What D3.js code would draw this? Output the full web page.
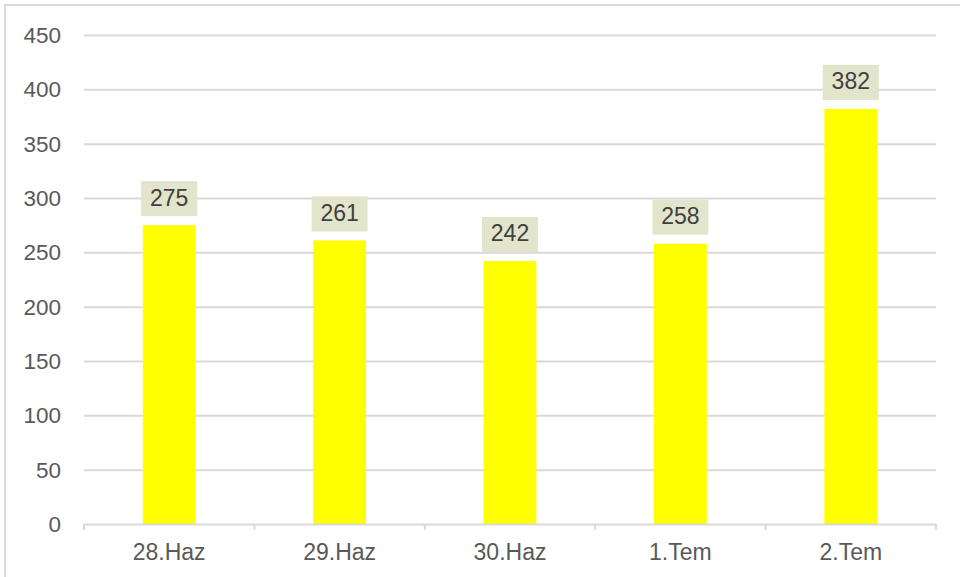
<!DOCTYPE html>
<html><head><meta charset="utf-8">
<script src="https://cdn.jsdelivr.net/npm/d3@7"></script>
<style>body{margin:0;background:#fff}svg{display:block}</style>
</head><body>
<script>
const categories = ["28.Haz","29.Haz","30.Haz","1.Tem","2.Tem"];
const values = [275,261,242,258,382];
const yTicks = [0,50,100,150,200,250,300,350,400,450];

const W=960,H=577;
const svg=d3.select("body").append("svg").attr("width",W).attr("height",H);
svg.append("rect").attr("x",5).attr("y",5).attr("width",W).attr("height",H)
  .attr("fill","#fff").attr("stroke","#d9d9d9").attr("stroke-width",2);

const pL=84,pR=936,pT=35,pB=524;
const x=d3.scaleBand().domain(categories).range([pL,pR]).paddingInner(0.69).paddingOuter(0.345);
const xb=d3.scaleBand().domain(categories).range([pL,pR]);
const y=d3.scaleLinear().domain([0,450]).range([pB,pT]);
const font="'Liberation Sans', Arial, sans-serif";

// gridlines
svg.append("g").selectAll("line").data(yTicks.filter(d=>d>0)).join("line")
  .attr("x1",pL).attr("x2",pR).attr("y1",d=>y(d)+0.5).attr("y2",d=>y(d)+0.5)
  .attr("stroke","#d9d9d9").attr("stroke-width",2);

// y labels
svg.append("g").selectAll("text").data(yTicks).join("text")
  .attr("x",61).attr("y",d=>y(d)).attr("dy","0.35em").attr("text-anchor","end")
  .attr("font-family",font).attr("font-size",22.5).attr("fill","#595959").text(d=>d);

// bars
svg.append("g").selectAll("rect").data(values).join("rect")
  .attr("x",(d,i)=>x(categories[i])).attr("width",x.bandwidth())
  .attr("y",d=>y(d)).attr("height",d=>pB-y(d)).attr("fill","#ffff00");

// x axis
const ax=svg.append("g");
ax.append("line").attr("x1",pL).attr("x2",pR).attr("y1",pB+0.5).attr("y2",pB+0.5)
  .attr("stroke","#d9d9d9").attr("stroke-width",2);
const tickX=categories.map(c=>xb(c)).concat([pR]);
ax.selectAll("line.t").data(tickX).join("line").attr("class","t")
  .attr("x1",d=>d).attr("x2",d=>d).attr("y1",pB).attr("y2",pB+6)
  .attr("stroke","#d9d9d9").attr("stroke-width",2);
ax.selectAll("text").data(categories).join("text")
  .attr("x",d=>xb(d)+xb.bandwidth()/2).attr("y",pB+36).attr("text-anchor","middle")
  .attr("font-family",font).attr("font-size",23).attr("fill","#595959").text(d=>d);

// data labels
const lg=svg.append("g").selectAll("g").data(values).join("g")
  .attr("transform",(d,i)=>`translate(${xb(categories[i])+xb.bandwidth()/2},${y(d)-26.5})`);
lg.append("rect").attr("x",-28).attr("y",-17.5).attr("width",56).attr("height",35).attr("fill","#e2e4cb");
lg.append("text").attr("text-anchor","middle").attr("dy","0.3em")
  .attr("font-family",font).attr("font-size",23).attr("fill","#404040").text(d=>d);
</script>
</body></html>
